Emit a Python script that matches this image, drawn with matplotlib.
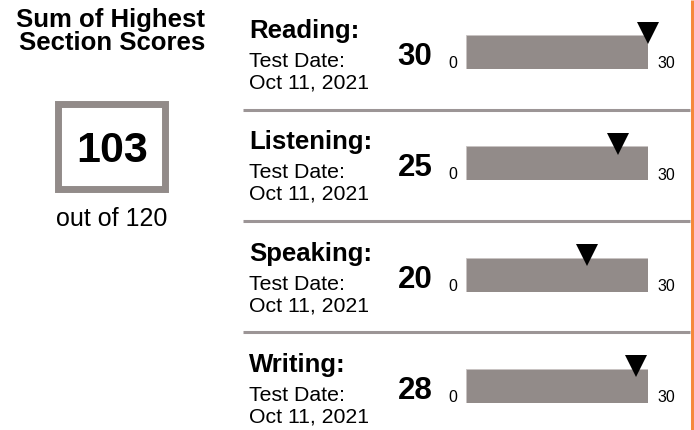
import matplotlib.pyplot as plt
from matplotlib.patches import Rectangle

plt.rcParams['font.family'] = ['Liberation Sans', 'DejaVu Sans']

# data
sections = ['Reading', 'Listening', 'Speaking', 'Writing']
scores = [30, 25, 20, 28]
test_dates = ['Oct 11, 2021', 'Oct 11, 2021', 'Oct 11, 2021', 'Oct 11, 2021']
max_score = 30
total_score = 103
total_max = 120
title_lines = ['Sum of Highest', 'Section Scores']

W, H = 694, 430
bar_grey = '#928b89'
line_grey = '#9c9596'
row_h = 111.3

fig = plt.figure(figsize=(W / 100, H / 100), dpi=100)
bg = fig.add_axes([0, 0, 1, 1])
bg.set_xlim(0, W)
bg.set_ylim(H, 0)
bg.axis('off')

# left panel
bg.text(111, 27, title_lines[0], ha='center', va='baseline', fontsize=18.5, fontweight='bold')
bg.text(112, 50, title_lines[1], ha='center', va='baseline', fontsize=18.5, fontweight='bold')
bg.add_patch(Rectangle((58.5, 103.5), 107, 85, fill=False, edgecolor=bar_grey, linewidth=5.0))
bg.text(112.5, 162, str(total_score), ha='center', va='baseline', fontsize=31, fontweight='bold')
bg.text(111.5, 226, f'out of {total_max}', ha='center', va='baseline', fontsize=18)

# orange border line on the right
bg.plot([692.5, 692.5], [0, H], color='#f5893b', linewidth=2.2, solid_capstyle='butt')

for i, (name, sc, dt) in enumerate(zip(sections, scores, test_dates)):
    y0 = i * row_h
    bg.text(249, y0 + 38, name + ':', ha='left', va='baseline', fontsize=18.5, fontweight='bold')
    bg.text(249, y0 + 67, 'Test Date:', ha='left', va='baseline', fontsize=15.3)
    bg.text(249, y0 + 88.5, dt, ha='left', va='baseline', fontsize=15.3)
    bg.text(415, y0 + 65, str(sc), ha='center', va='baseline', fontsize=22.5, fontweight='bold')
    bg.text(453, y0 + 68, '0', ha='center', va='baseline', fontsize=11.5)
    bg.text(666, y0 + 68.5, str(max_score), ha='center', va='baseline', fontsize=11.5)
    if i < len(sections) - 1:
        bg.plot([243, 690], [y0 + 109.5, y0 + 109.5], color=line_grey, linewidth=2.2,
                solid_capstyle='butt')

    # bar track with score marker
    bx0, bx1 = 466, 648
    by_top, by_bot = y0 + 35, y0 + 69
    ax = fig.add_axes([bx0 / W, 1 - by_bot / H, (bx1 - bx0) / W, (by_bot - by_top) / H])
    ax.set_xlim(0, max_score)
    ax.set_ylim(-0.5, 0.5)
    ax.axis('off')
    ax.barh(0, max_score, height=1, left=0, color=bar_grey, edgecolor='#c8c3c2', linewidth=0.6)
    ax.plot([sc], [0.5 + 2.5 / 34], marker='v', markersize=15.5, color='black',
            markeredgewidth=0, clip_on=False, linestyle='none')

fig.savefig('out.png', dpi=100)
